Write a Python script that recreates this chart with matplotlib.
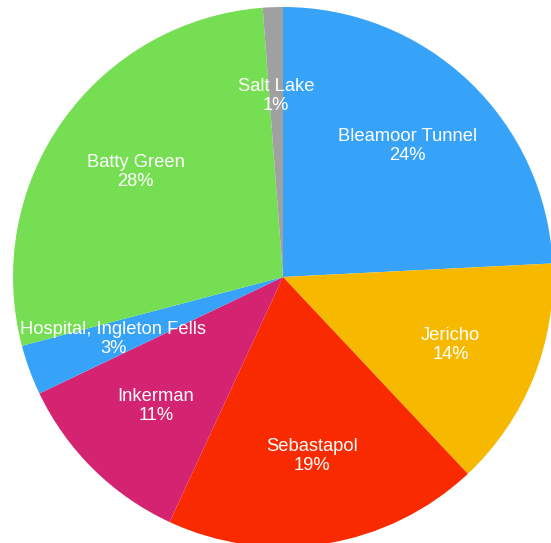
import numpy as np
import matplotlib
matplotlib.use("Agg")
import matplotlib.pyplot as plt

# slice data, clockwise from 12 o'clock (estimated shares, labels show rounded %)
names = ["Bleamoor Tunnel", "Jericho", "Sebastapol", "Inkerman",
         "Hospital, Ingleton Fells", "Batty Green", "Salt Lake"]
shares = [24.2, 13.8, 18.9, 11.0, 3.0, 27.9, 1.2]
colors = ["#36A3F8", "#F7B900", "#F92A00", "#D42471",
          "#36A3F8", "#76DE52", "#A0A0A0"]

W, H = 551, 543
fig = plt.figure(figsize=(W / 100, H / 100), dpi=100)

# pie centre and radius in pixels
cx, cy, r = 283, 277, 270
ax = fig.add_axes([(cx - r) / W, 1 - (cy + r) / H, 2 * r / W, 2 * r / H])

labels = [f"{n}\n{round(s)}%" for n, s in zip(names, shares)]
wedges, texts = ax.pie(shares, colors=colors, startangle=90, counterclock=False,
                       labels=labels, labeldistance=0.67, radius=1.0,
                       wedgeprops=dict(linewidth=0, antialiased=True),
                       textprops=dict(color="white", fontsize=13.2,
                                      family="Liberation Sans",
                                      linespacing=1.15))
for t in texts:
    t.set_horizontalalignment("center")
    t.set_verticalalignment("center")

ax.set_xlim(-1, 1)
ax.set_ylim(-1, 1)
ax.set_aspect("equal")
ax.axis("off")

fig.savefig("out.png", dpi=100)
